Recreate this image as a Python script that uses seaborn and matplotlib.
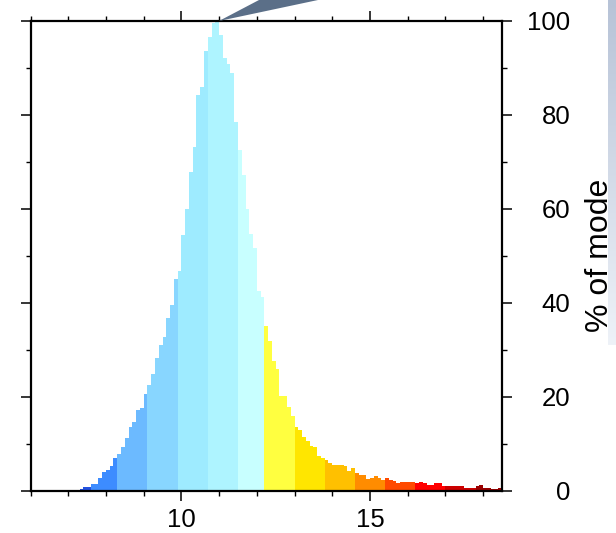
import numpy as np
import pandas as pd
import seaborn as sns
import matplotlib
matplotlib.use("Agg")
import matplotlib.pyplot as plt
from matplotlib.patches import Polygon
from matplotlib.colors import LinearSegmentedColormap

# ---------------- data ----------------
bin_start = 7.3
bin_width = 0.1
pct_of_mode = [
    0.3, 0.8, 0.8, 1.35, 1.35, 2.7, 3.9, 4.5, 5.3, 7.0,          # 7.3 - 8.2
    7.8, 9.2, 11.2, 13.5, 14.6, 17.2, 17.7, 20.6,                # 8.3 - 9.0
    22.5, 24.8, 28.2, 31.0, 32.7, 36.7, 39.5, 45.1,              # 9.1 - 9.8
    46.8, 54.5, 60.0, 67.9, 73.2, 84.2, 86.0, 93.7,              # 9.9 - 10.6
    96.5, 99.6, 100.0, 97.1, 92.1, 90.8, 88.9, 78.6,             # 10.7 - 11.4
    72.6, 67.3, 60.0, 54.6, 51.7, 42.6, 41.2,                    # 11.5 - 12.1
    35.0, 31.9, 27.6, 25.9, 20.2, 20.2, 17.9, 16.0,              # 12.2 - 12.9
    13.5, 12.9, 11.5, 10.6, 9.6, 9.4, 7.3, 7.0,                  # 13.0 - 13.7
    6.5, 5.8, 5.5, 5.5, 5.5, 5.3, 4.3, 4.8,                      # 13.8 - 14.5
    3.7, 3.4, 3.4, 2.5, 2.8, 3.1, 2.6, 2.3,                      # 14.6 - 15.3
    2.8, 2.3, 2.0, 1.7, 1.85, 1.85, 1.85, 1.85,                  # 15.4 - 16.1
    1.7, 1.85, 1.56, 1.2, 1.3, 1.56, 1.56, 1.0,                  # 16.2 - 16.9
    1.1, 1.0, 1.1, 1.1, 1.1, 0.64, 0.64, 0.64,                   # 17.0 - 17.7
    0.9, 1.2, 0.64, 0.64, 0.45, 0.45, 0.64,                      # 17.8 - 18.4
]
band_edges = [7.3, 7.6, 8.3, 9.1, 9.9, 10.7, 11.5, 12.2, 13.0, 13.8,
              14.6, 15.4, 16.2, 17.0, 17.8, 18.5]
band_colors = ["#2352e0", "#3d8cff", "#6cbaff", "#88d6ff", "#9eebff",
               "#aef4ff", "#c8ffff", "#ffff40", "#ffe600", "#ffc000",
               "#ff8c00", "#ff4a00", "#ff0000", "#cc0000", "#990000"]
x_major = [10, 15]
x_minor = list(range(6, 19))
y_major = [0, 20, 40, 60, 80, 100]
y_minor = [10, 30, 50, 70, 90]

# ---------------- derived table ----------------
n = len(pct_of_mode)
edges = [round(bin_start + bin_width * i, 2) for i in range(n + 1)]
centers = [e + bin_width / 2 for e in edges[:-1]]
band_idx = np.digitize(centers, band_edges[1:-1])
band_names = [f"b{i:02d}" for i in range(len(band_colors))]
df = pd.DataFrame({"value": centers, "pct": pct_of_mode,
                   "band": [band_names[i] for i in band_idx]})
palette = dict(zip(band_names, band_colors))

# ---------------- figure ----------------
sns.set_style("white")
plt.rcParams["font.family"] = ["Liberation Sans", "DejaVu Sans"]
plt.rcParams["text.color"] = "black"
plt.rcParams["axes.labelcolor"] = "black"
plt.rcParams["xtick.color"] = "black"
plt.rcParams["ytick.color"] = "black"

W, H = 616, 533
fig = plt.figure(figsize=(W / 100, H / 100), dpi=100)
L, R, T, B = 30.5, 502.0, 21.0, 490.7
ax = fig.add_axes([L / W, 1 - B / H, (R - L) / W, (B - T) / H])

sns.histplot(data=df, x="value", weights="pct", bins=edges, hue="band",
             hue_order=band_names, palette=palette, element="step",
             fill=True, alpha=1, linewidth=0, legend=False,
             multiple="layer", common_norm=False, ax=ax)

ax.set_xlim(6, 18.5)
ax.set_ylim(0, 100)
ax.set_xlabel("")
ax.set_xticks(x_major)
ax.set_xticks(x_minor, minor=True)
ax.set_yticks(y_major)
ax.set_yticks(y_minor, minor=True)
ax.set_xticklabels([str(v) for v in x_major])

for s in ax.spines.values():
    s.set_visible(True)
    s.set_color("black")
    s.set_linewidth(1.6)

ax.tick_params(axis="both", which="both", direction="out", color="black",
               labelcolor="black",
               top=True, bottom=True, left=True, right=True)
ax.tick_params(axis="both", which="major", length=7.2, width=1.1)
ax.tick_params(axis="both", which="minor", length=3.8, width=1.0)
ax.tick_params(axis="x", which="major", labelsize=18.5, pad=5,
               labeltop=False, labelbottom=True)
ax.tick_params(axis="y", which="major", labelsize=18.5, labelleft=False,
               labelright=True, pad=42)
for lab in ax.get_yticklabels():
    lab.set_ha("right")

ax.set_ylabel("% of mode", fontsize=23, color="black")
ax.yaxis.set_label_position("right")
lbl = ax.yaxis.label
lbl.set_rotation(90)
lbl.set_rotation_mode("anchor")
lbl.set_ha("center")
lbl.set_va("center")
ax.yaxis.set_label_coords((600 - L) / (R - L), 0.502)

# callout wedge at the mode (decoration from the source screenshot)
wedge = Polygon([(219 / W, 1 - 21 / H), (259 / W, 1.0), (318 / W, 1.0)],
                closed=True, transform=fig.transFigure,
                facecolor="#5b6f88", edgecolor="none", clip_on=False)
fig.patches.append(wedge)

# light side strip at right edge
sax = fig.add_axes([608 / W, 1 - 345 / H, 8 / W, 345 / H])
grad = np.linspace(0, 1, 256).reshape(-1, 1)
cmap = LinearSegmentedColormap.from_list("strip", ["#b7c3d7", "#eef2f8"])
sax.imshow(grad, aspect="auto", cmap=cmap)
sax.set_axis_off()

fig.savefig("out.png", dpi=100)
